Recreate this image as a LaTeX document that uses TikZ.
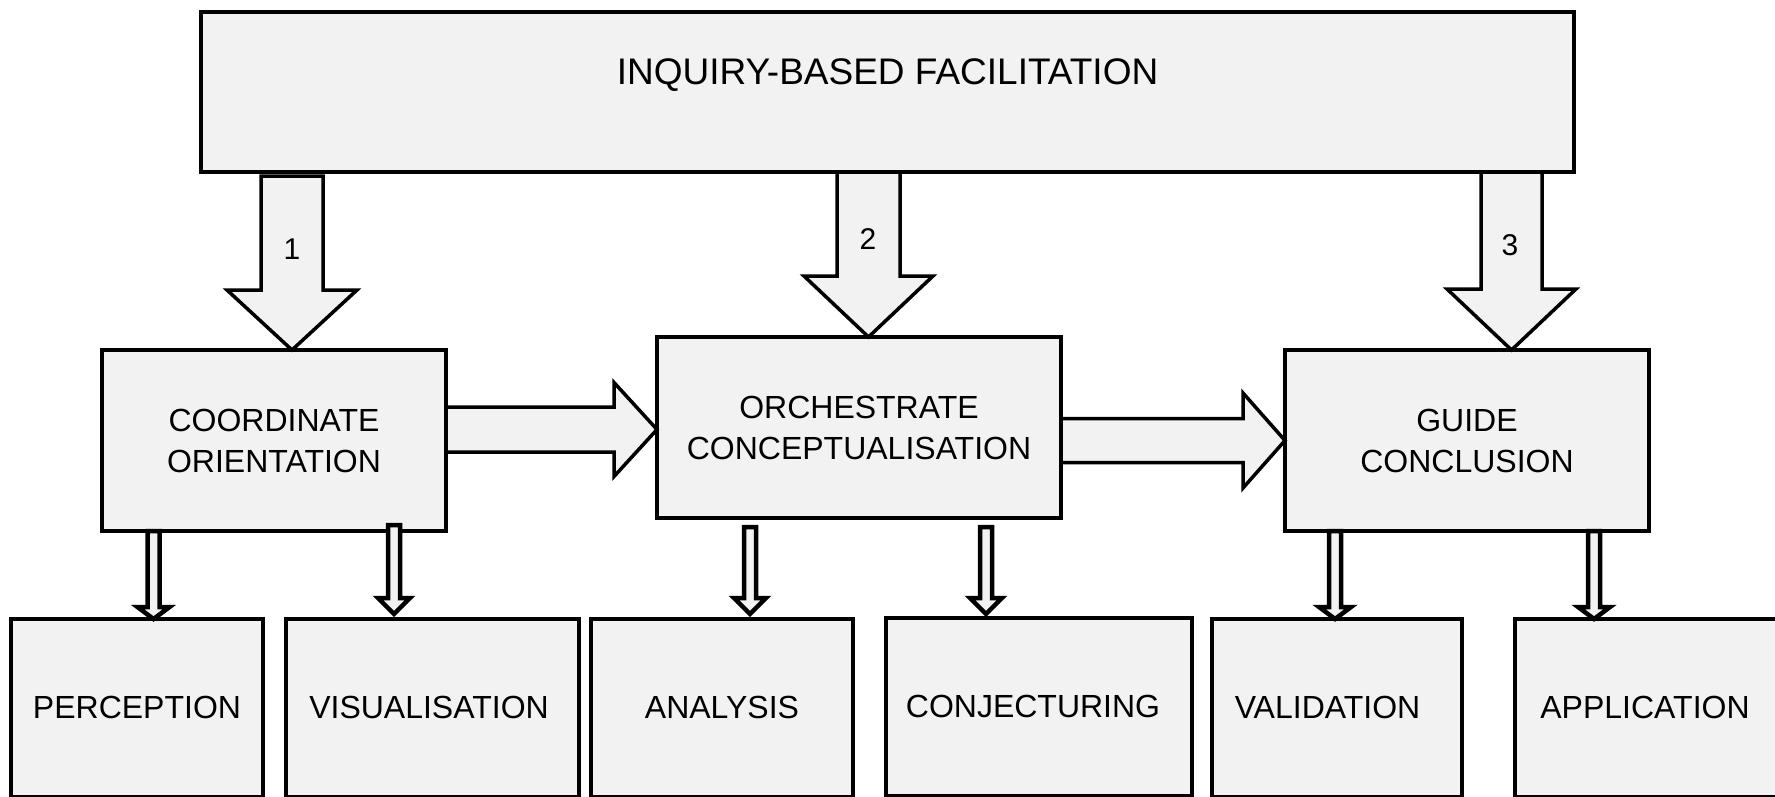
\documentclass[tikz,border=0pt]{standalone}
\usepackage{fontspec}
\setmainfont{Liberation Sans}
\usetikzlibrary{calc}
\definecolor{boxfill}{HTML}{F2F2F2}
\tikzset{
  box/.style={draw=black, fill=boxfill, line width=4.5pt, inner sep=0pt, outer sep=0pt,
    align=center, font=\fontsize{32}{41}\selectfont, anchor=north west},
  lowbox/.style={box, minimum height=178pt, text height=99.5pt, text depth=78.5pt},
  midbox/.style={box, minimum height=181pt},
  bigarrow/.style={draw=black, fill=boxfill, line width=3.5pt},
  smallarrow/.style={draw=black, fill=boxfill, line width=4.5pt},
  num/.style={font=\fontsize{30}{36}\selectfont, inner sep=0pt},
}
% vertical block arrow: x, start, tip, half shaft, half head, head length, style
\newcommand\vblock[7]{%
  \draw[#7] let \p1=(#2), \p2=(#3) in
    (#1pt-#4,\y1) -- (#1pt-#4,\y2+#6) -- (#1pt-#5,\y2+#6) -- (#1pt,\y2)
    -- (#1pt+#5,\y2+#6) -- (#1pt+#4,\y2+#6) -- (#1pt+#4,\y1) -- cycle;}
% horizontal block arrow: start, tip, half shaft, half head, head length, style
\newcommand\hblock[6]{%
  \draw[#6] let \p1=(#1), \p2=(#2) in
    (\x1,\y2+#3) -- (\x2-#5,\y2+#3) -- (\x2-#5,\y2+#4) -- (\x2,\y2)
    -- (\x2-#5,\y2-#4) -- (\x2-#5,\y2-#3) -- (\x1,\y2-#3) -- cycle;}
\begin{document}
\begin{tikzpicture}[x=1pt, y=-1pt]
\useasboundingbox (0,0) rectangle (1775,796);
\clip (0,0) rectangle (1775,796);

% top box
\node[box, minimum width=1373pt, minimum height=160pt, text height=72pt, text depth=88pt,
  font=\fontsize{37}{44}\selectfont] (top) at (201,12) {INQUIRY-BASED FACILITATION};

% middle boxes
\node[midbox, minimum width=344pt] (coord) at (102,350) {COORDINATE\\ORIENTATION};
\node[midbox, minimum width=404pt] (orch) at (657,337) {ORCHESTRATE\\CONCEPTUALISATION};
\node[midbox, minimum width=364pt] (guide) at (1285,350) {GUIDE\\CONCLUSION};

% bottom boxes
\node[lowbox, minimum width=252pt] (perc) at (11,619) {PERCEPTION};
\node[lowbox, minimum width=293pt] (visu) at (286,619) {VISUALISATION\hspace*{7pt}};
\node[lowbox, minimum width=262pt] (anal) at (591,619) {ANALYSIS};
\node[lowbox, minimum width=306pt] (conj) at (886,618) {CONJECTURING\hspace*{12pt}};
\node[lowbox, minimum width=250pt] (valid) at (1212,619) {VALIDATION\hspace*{19pt}};
\node[lowbox, minimum width=285pt] (appl) at (1515,619) {APPLICATION\hspace*{25pt}};

% big arrows from the top box
\vblock{292}{$(top.south)+(0,4)$}{coord.north}{31pt}{65pt}{60pt}{bigarrow}
\vblock{868.5}{top.south}{orch.north}{31.5pt}{64.5pt}{61pt}{bigarrow}
\vblock{1511.5}{top.south}{guide.north}{30.5pt}{64.5pt}{61pt}{bigarrow}

% horizontal arrows
\hblock{coord.east}{$(orch.west)+(0,2)$}{22.5pt}{47pt}{43pt}{bigarrow}
\hblock{orch.east}{guide.west}{22pt}{47.5pt}{42pt}{bigarrow}

% small arrows
\vblock{153.5}{coord.south}{perc.north}{6pt}{16pt}{12pt}{smallarrow}
\vblock{394}{$(coord.south)+(0,-6)$}{$(visu.north)+(0,-5)$}{6pt}{16pt}{16pt}{smallarrow}
\vblock{750}{$(orch.south)+(0,9)$}{$(anal.north)+(0,-5)$}{6pt}{16pt}{16pt}{smallarrow}
\vblock{986}{$(orch.south)+(0,9)$}{$(conj.north)+(0,-4)$}{6pt}{16pt}{16pt}{smallarrow}
\vblock{1335}{guide.south}{valid.north}{6pt}{16pt}{12pt}{smallarrow}
\vblock{1594}{guide.south}{appl.north}{6pt}{16pt}{12pt}{smallarrow}

% numbers
\node[num] (n1) at (292,249) {1};
\node[num] (n2) at (868,239) {2};
\node[num] (n3) at (1510,245) {3};
\end{tikzpicture}
\end{document}
